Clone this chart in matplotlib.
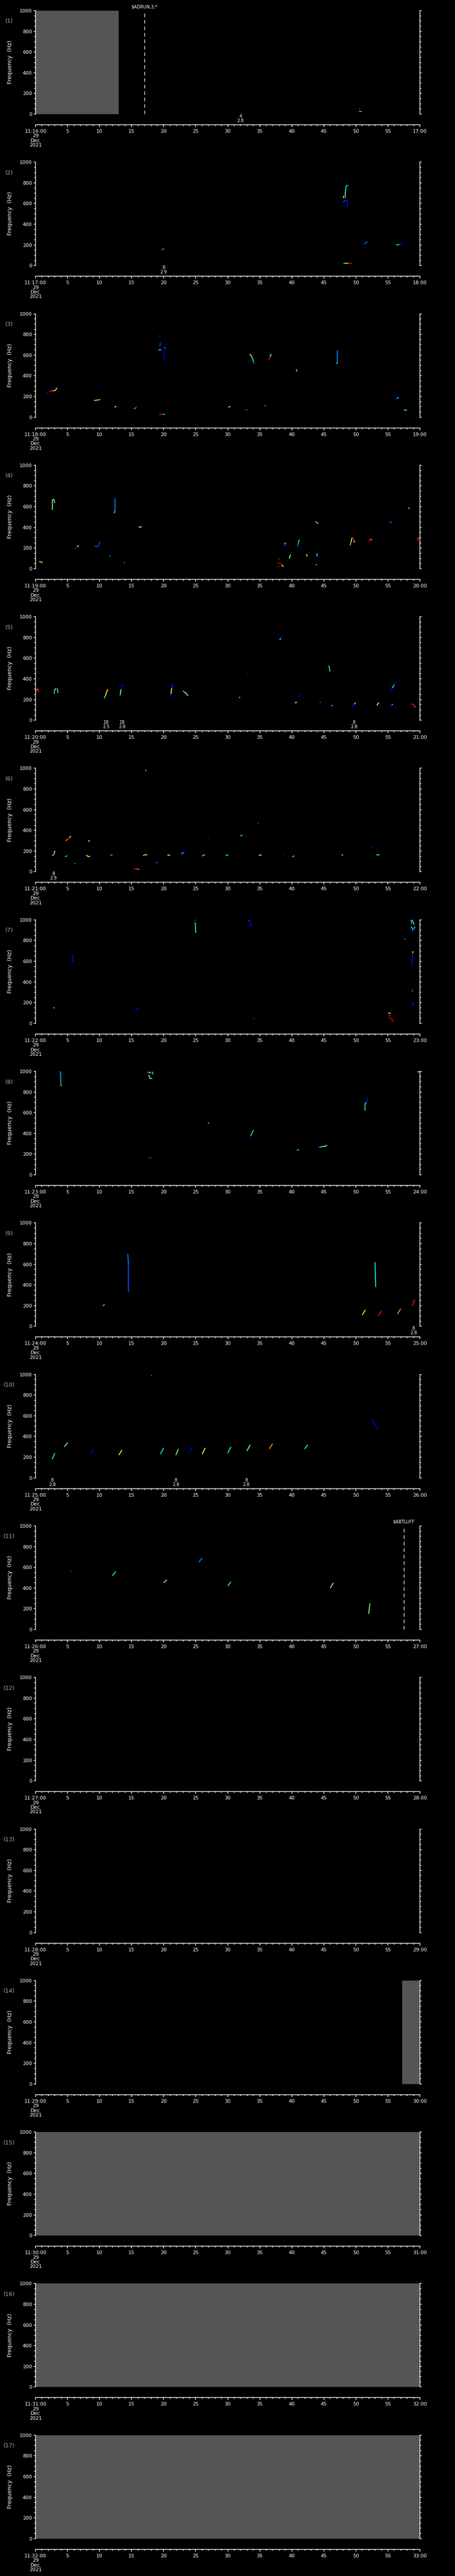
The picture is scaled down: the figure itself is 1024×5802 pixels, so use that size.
import matplotlib
matplotlib.use('Agg')
import matplotlib.pyplot as plt
import numpy as np
from matplotlib.collections import LineCollection
from matplotlib.ticker import MultipleLocator, FuncFormatter
import matplotlib.transforms as mtransforms

# ---- data -------------------------------------------------------------
N_PANEL = 17
first_minute = 16          # panel 1 starts 11:16:00
date_lines = ['29', 'Dec', '2021']

# no-data (grey) spans in seconds, per panel
gray_spans = {1: [(0, 13.0)], 14: [(57.2, 60)], 15: [(0, 60)], 16: [(0, 60)], 17: [(0, 60)]}

# vertical marker lines: panel -> (second, label)
marker_lines = {1: (17.0, '$ADRUN,3,*'), 11: (57.5, '$ABTLUFF')}

# event labels under the plot: panel -> [(second, count, value)]
event_labels = {
    1: [(32.0, '4', '2.8')],
    2: [(20.0, '8', '2.9')],
    5: [(11.0, '18', '2.5'), (13.5, '18', '2.8'), (49.7, '8', '2.8')],
    6: [(2.8, '8', '2.9')],
    9: [(59.0, '8', '2.8')],
    10: [(2.6, '8', '2.8'), (21.9, '8', '2.8'), (32.9, '8', '2.8')],
}

# detected traces: each trace = [(second, Hz, level 0-1)], level -> jet colour
p1 = [
    [(32.0, 17, 0.12)],
    [(50.6, 51, 0.25)],
    [(50.5, 26, 0.76), (50.9, 26, 0.25)],
]
p2 = [
    [(19.7, 150, 0.25), (20.1, 167, 0.25)],
    [(48.07, 653, 0.64), (48.07, 677, 0.64)],
    [(48.38, 653, 0.45), (48.38, 717, 0.36), (48.5, 774, 0.3), (48.83, 774, 0.25)],
    [(48.0, 614, 0.2), (48.4, 631, 0.12), (48.7, 634, 0.12), (48.7, 563, 0.12)],
    [(48.07, 21, 0.36), (48.4, 24, 0.64), (48.8, 21, 0.9), (49.4, 21, 0.76)],
    [(51.1, 203, 0.12), (51.4, 214, 0.25), (51.8, 229, 0.3)],
    [(56.3, 200, 0.36), (56.8, 205, 0.12), (57.3, 219, 0.25)],
]
p3 = [
    [(1.67, 232, 0.12), (1.99, 242, 0.12), (2.18, 247, 0.9), (2.57, 256, 0.76),
     (2.96, 256, 0.64), (3.15, 263, 0.5), (3.35, 285, 0.12), (3.54, 289, 0.12)],
    [(9.11, 162, 0.3), (9.3, 162, 0.64), (9.6, 165, 0.76), (9.85, 167, 0.64), (10.08, 170, 0.12)],
    [(12.34, 97, 0.64), (12.61, 104, 0.76)],
    [(15.4, 80, 0.36), (15.6, 90, 0.2), (15.8, 102, 0.12)],
    [(19.35, 785, 0.36), (19.45, 785, 0.36)],
    [(19.4, 688, 0.2), (19.5, 717, 0.12), (19.7, 720, 0.12)],
    [(19.2, 640, 0.25), (19.3, 654, 0.36), (19.6, 650, 0.12)],
    [(20.0, 556, 0.12), (20.1, 590, 0.12), (20.15, 672, 0.25), (20.3, 672, 0.5)],
    [(19.3, 27, 0.9), (19.7, 27, 0.9), (19.9, 27, 0.36), (20.2, 27, 0.12)],
    [(30.1, 97, 0.64), (30.4, 104, 0.76)],
    [(32.7, 74, 0.2), (33.1, 70, 0.12)],
    [(35.7, 109, 0.25), (36.0, 109, 0.36)],
    [(33.4, 609, 0.55), (33.6, 600, 0.5), (33.85, 574, 0.36), (34.0, 538, 0.25), (34.1, 516, 0.2)],
    [(36.4, 556, 0.9), (36.6, 584, 0.5), (36.75, 607, 0.36), (36.85, 611, 0.12), (36.9, 590, 0.12)],
    [(40.7, 461, 0.5), (40.8, 442, 0.12)],
    [(47.0, 514, 0.36), (47.1, 530, 0.25), (47.1, 640, 0.2), (47.3, 642, 0.12)],
    [(56.1, 175, 0.12), (56.4, 181, 0.36), (56.7, 190, 0.12)],
    [(57.5, 70, 0.36), (58.0, 67, 0.3)],
]
p4 = [
    [(0.58, 71, 0.5), (0.8, 64, 0.64), (1.09, 59, 0.12)],
    [(2.57, 571, 0.64), (2.65, 580, 0.5), (2.65, 667, 0.4), (2.9, 667, 0.5), (2.96, 635, 0.12)],
    [(6.07, 186, 0.12), (6.35, 207, 0.12), (6.5, 214, 0.64), (6.77, 221, 0.12)],
    [(9.19, 217, 0.2), (9.8, 214, 0.2), (9.9, 236, 0.2), (10.04, 260, 0.25)],
    [(11.6, 123, 0.3), (11.75, 123, 0.3)],
    [(12.3, 536, 0.36), (12.4, 560, 0.25), (12.4, 679, 0.25), (12.5, 679, 0.2)],
    [(13.8, 59, 0.36), (13.95, 59, 0.36)],
    [(16.1, 404, 0.5), (16.6, 404, 0.12)],
    [(16.0, 114, 0.12), (16.1, 124, 0.12)],
    [(37.8, 50, 0.95), (38.3, 50, 0.95), (38.45, 36, 0.64), (38.7, 20, 0.25)],
    [(37.8, 20, 0.9), (38.0, 20, 0.9)],
    [(37.9, 93, 0.9), (38.1, 93, 0.12)],
    [(38.8, 210, 0.12), (38.9, 236, 0.64), (39.0, 250, 0.9), (39.1, 245, 0.12)],
    [(39.6, 97, 0.5), (39.8, 136, 0.9)],
    [(40.9, 217, 0.25), (41.0, 243, 0.36), (41.1, 273, 0.36), (41.25, 273, 0.36)],
    [(42.3, 140, 0.64), (42.4, 119, 0.12)],
    [(43.9, 119, 0.36), (44.0, 149, 0.36)],
    [(43.8, 40, 0.64), (43.9, 40, 0.64)],
    [(43.7, 457, 0.36), (43.9, 447, 0.5), (44.1, 436, 0.12)],
    [(49.1, 226, 0.36), (49.25, 257, 0.64), (49.4, 300, 0.9), (49.6, 297, 0.9),
     (49.7, 270, 0.5), (49.8, 253, 0.36)],
    [(52.1, 257, 0.9), (52.2, 287, 0.9), (52.4, 284, 0.64), (52.5, 277, 0.36)],
    [(55.2, 457, 0.2), (55.7, 443, 0.12)],
    [(58.2, 590, 0.5), (58.4, 580, 0.12)],
    [(59.6, 271, 0.9), (59.7, 297, 0.76), (59.85, 297, 0.9), (59.95, 274, 0.36)],
]
p5 = [
    [(0.1, 269, 0.9), (0.2, 301, 0.76), (0.4, 298, 0.9), (0.5, 276, 0.36)],
    [(2.9, 255, 0.36), (3.0, 298, 0.64), (3.2, 305, 0.9), (3.4, 305, 0.36), (3.5, 262, 0.12)],
    [(10.7, 212, 0.36), (10.9, 234, 0.64), (11.15, 284, 0.64), (11.25, 301, 0.9), (11.4, 284, 0.5)],
    [(13.2, 241, 0.5), (13.35, 298, 0.12), (13.5, 344, 0.12), (13.65, 341, 0.12), (13.75, 327, 0.12)],
    [(21.0, 219, 0.12), (21.15, 255, 0.64), (21.25, 312, 0.12), (21.4, 352, 0.12), (21.45, 319, 0.12)],
    [(23.0, 284, 0.36), (23.3, 269, 0.64), (23.6, 255, 0.5), (23.8, 236, 0.12)],
    [(31.75, 219, 0.5), (31.95, 222, 0.4)],
    [(33.0, 451, 0.12), (33.2, 461, 0.36)],
    [(38.1, 778, 0.36), (38.3, 792, 0.12), (38.5, 809, 0.12)],
    [(40.3, 155, 0.12), (40.5, 169, 0.64), (40.8, 172, 0.76)],
    [(41.1, 226, 0.12), (41.2, 255, 0.12)],
    [(44.3, 172, 0.9), (44.6, 172, 0.12)],
    [(45.7, 523, 0.5), (45.85, 520, 0.36), (45.95, 470, 0.12), (46.0, 463, 0.12)],
    [(46.0, 129, 0.12), (46.2, 140, 0.36), (46.4, 146, 0.12)],
    [(49.4, 129, 0.12), (49.7, 155, 0.76), (49.85, 161, 0.36), (50.0, 172, 0.2)],
    [(53.3, 143, 0.64), (53.5, 165, 0.64), (53.6, 172, 0.36)],
    [(55.4, 133, 0.12), (55.6, 150, 0.36), (55.8, 155, 0.36)],
    [(55.4, 276, 0.12), (55.7, 312, 0.36), (56.0, 341, 0.12), (56.2, 367, 0.12), (56.3, 370, 0.12)],
    [(58.7, 152, 0.9), (59.0, 158, 0.9), (59.15, 129, 0.36), (59.3, 129, 0.36)],
]
p6 = [
    [(17.2, 989, 0.3), (17.2, 970, 0.3)],
    [(2.6, 154, 0.5), (2.8, 164, 0.36), (2.95, 180, 0.64), (3.0, 203, 0.5)],
    [(4.7, 300, 0.76), (5.0, 314, 0.9), (5.3, 330, 0.64), (5.5, 346, 0.2)],
    [(4.6, 146, 0.36), (4.9, 154, 0.12), (5.1, 157, 0.12)],
    [(6.1, 79, 0.36), (6.2, 83, 0.12)],
    [(7.8, 161, 0.9), (8.0, 161, 0.64), (8.1, 150, 0.64), (8.5, 146, 0.12), (8.8, 146, 0.12)],
    [(8.2, 296, 0.64), (8.45, 299, 0.12)],
    [(11.6, 157, 0.9), (11.8, 161, 0.76), (12.0, 163, 0.9)],
    [(15.3, 26, 0.9), (15.8, 26, 0.76), (16.1, 24, 0.2), (16.3, 24, 0.12)],
    [(16.8, 154, 0.5), (17.05, 165, 0.64), (17.4, 164, 0.12), (17.7, 157, 0.12)],
    [(18.7, 87, 0.2), (19.1, 87, 0.12)],
    [(20.6, 161, 0.64), (21.0, 161, 0.5)],
    [(22.5, 170, 0.12), (22.8, 174, 0.36), (23.1, 186, 0.12), (23.3, 203, 0.36)],
    [(26.0, 151, 0.36), (26.2, 160, 0.76), (26.5, 163, 0.9)],
    [(26.8, 314, 0.12), (27.1, 314, 0.12)],
    [(29.7, 161, 0.36), (30.1, 161, 0.36)],
    [(32.0, 346, 0.36), (32.3, 354, 0.12)],
    [(34.6, 471, 0.2), (34.8, 471, 0.12)],
    [(34.8, 161, 0.5), (35.3, 161, 0.36)],
    [(38.7, 161, 0.12), (38.9, 161, 0.12)],
    [(40.1, 143, 0.36), (40.4, 154, 0.12)],
    [(44.55, 337, 0.12), (44.7, 337, 0.12)],
    [(47.8, 159, 0.5), (48.0, 166, 0.36)],
    [(52.4, 236, 0.12), (52.7, 239, 0.36)],
    [(53.2, 161, 0.36), (53.7, 166, 0.12)],
]
p7 = [
    [(2.76, 150, 0.36), (2.95, 150, 0.2)],
    [(5.84, 666, 0.12), (5.86, 587, 0.12)],
    [(15.6, 135, 0.12), (15.8, 142, 0.12), (16.1, 142, 0.36)],
    [(24.85, 971, 0.45), (24.95, 971, 0.36), (25.0, 874, 0.36)],
    [(24.8, 997, 0.76), (25.05, 997, 0.9)],
    [(33.1, 994, 0.2), (33.4, 997, 0.12), (33.6, 941, 0.12), (33.75, 941, 0.12)],
    [(34.0, 46, 0.9), (34.15, 46, 0.12)],
    [(55.1, 52, 0.95), (55.6, 52, 0.95), (55.6, 26, 0.9), (55.9, 26, 0.55)],
    [(55.1, 99, 0.64), (55.4, 99, 0.12)],
    [(55.1, 73, 0.9), (55.4, 73, 0.12)],
    [(57.5, 817, 0.2), (57.8, 811, 0.12)],
    [(58.5, 997, 0.36), (58.8, 997, 0.36), (58.95, 974, 0.5), (59.1, 957, 0.9), (59.2, 960, 0.76)],
    [(58.7, 997, 0.3), (58.7, 961, 0.3)],
    [(58.6, 933, 0.36), (58.9, 914, 0.36), (58.9, 893, 0.12), (59.1, 914, 0.36), (59.2, 934, 0.36)],
    [(58.9, 696, 0.64), (58.88, 678, 0.12), (58.75, 549, 0.12)],
    [(58.8, 327, 0.25), (58.8, 302, 0.25)],
    [(58.7, 158, 0.12), (58.8, 187, 0.2), (59.0, 193, 0.25)],
]
p8 = [
    [(3.75, 998, 0.2), (3.9, 998, 0.3), (3.95, 864, 0.64), (4.1, 862, 0.12)],
    [(17.4, 983, 0.2), (17.65, 997, 0.76), (17.75, 985, 0.7), (18.0, 988, 0.12),
     (18.2, 997, 0.36), (18.35, 971, 0.12), (18.5, 974, 0.12)],
    [(17.65, 964, 0.5), (17.75, 951, 0.5), (17.85, 930, 0.5), (18.15, 930, 0.12), (18.4, 918, 0.12)],
    [(17.7, 168, 0.2), (18.1, 163, 0.12)],
    [(26.9, 501, 0.36), (27.1, 498, 0.12)],
    [(33.5, 355, 0.12), (33.6, 377, 0.36), (33.8, 404, 0.36), (34.0, 430, 0.12)],
    [(40.8, 241, 0.36), (41.1, 241, 0.12)],
    [(44.0, 269, 0.12), (44.3, 266, 0.36), (44.8, 274, 0.5), (45.3, 277, 0.5), (45.5, 288, 0.12)],
    [(51.4, 622, 0.36), (51.45, 689, 0.36), (51.65, 703, 0.12), (51.8, 749, 0.12)],
    [(59.55, 997, 0.36), (59.75, 997, 0.64), (59.95, 994, 0.64)],
]
# rough estimates
p9 = [
    [(14.4, 700, 0.25), (14.5, 600, 0.2), (14.5, 330, 0.12)],
    [(10.5, 200, 0.36), (10.8, 210, 0.2)],
    [(51.0, 110, 0.64), (51.5, 160, 0.76)],
    [(53.5, 100, 0.9), (54.0, 150, 0.64)],
    [(56.5, 120, 0.76), (57.0, 170, 0.9)],
    [(58.8, 200, 0.9), (59.2, 260, 0.64)],
    [(53.0, 620, 0.36), (53.1, 380, 0.25)],
]
p10 = [
    [(2.6, 180, 0.36), (3.0, 240, 0.64)],
    [(4.5, 300, 0.5), (5.0, 340, 0.25)],
    [(8.5, 230, 0.12), (9.0, 280, 0.36)],
    [(13.0, 220, 0.64), (13.5, 270, 0.76)],
    [(19.5, 230, 0.36), (20.0, 290, 0.12)],
    [(21.9, 220, 0.5), (22.3, 280, 0.64)],
    [(24.0, 250, 0.12), (24.5, 300, 0.36)],
    [(26.0, 230, 0.64), (26.5, 290, 0.9)],
    [(30.0, 240, 0.36), (30.5, 300, 0.12)],
    [(33.0, 260, 0.5), (33.5, 320, 0.64)],
    [(36.5, 280, 0.76), (37.0, 330, 0.64)],
    [(42.0, 280, 0.36), (42.5, 320, 0.12)],
    [(18.0, 990, 0.5), (18.1, 990, 0.5)],
    [(52.5, 560, 0.12), (53.5, 470, 0.25)],
]
p11 = [
    [(5.5, 560, 0.9), (5.6, 560, 0.9)],
    [(12.0, 520, 0.36), (12.5, 560, 0.12)],
    [(20.0, 450, 0.5), (20.5, 480, 0.25)],
    [(25.5, 650, 0.25), (26.0, 690, 0.12)],
    [(30.0, 420, 0.36), (30.5, 460, 0.12)],
    [(46.0, 400, 0.5), (46.5, 450, 0.36)],
    [(52.0, 150, 0.5), (52.2, 250, 0.36)],
]
empty = []
traces = [p1, p2, p3, p4, p5, p6, p7, p8, p9, p10, p11,
          empty, empty, empty, empty, empty, empty]

# ---- plotting ---------------------------------------------------------
W, H = 1024, 5802
DPI = 100
PX2PT = 72.0 / DPI
plt.rcParams['font.family'] = ['Liberation Sans Narrow', 'DejaVu Sans']

fig = plt.figure(figsize=(W / DPI, H / DPI), dpi=DPI, facecolor='black')
cmap = plt.get_cmap('jet')
pitch = H / N_PANEL
left, right = 80, 945
top_off, bot_off = 24, 257


def make_fmt(minute):
    def fmt(v, pos):
        v = int(round(v))
        if v == 0:
            return '11:%02d:00\n' % minute + '\n'.join(date_lines)
        if v == 60:
            return '%02d:00' % (minute + 1)
        return str(v)
    return fmt


for k in range(N_PANEL):
    num = k + 1
    off = k * pitch
    ax = fig.add_axes([left / W, 1 - (off + bot_off) / H,
                       (right - left) / W, (bot_off - top_off) / H])
    ax.set_facecolor('black')
    ax.set_xlim(0, 60)
    ax.set_ylim(0, 1000)

    for a, b in gray_spans.get(num, []):
        ax.axvspan(a, b, color='#555555', lw=0, zorder=1)

    for tr in traces[k]:
        pts = np.array(tr, dtype=float)
        if len(pts) == 1:
            ax.plot(pts[:, 0], pts[:, 1], 's', ms=2, mec='none', color=cmap(pts[0, 2]), zorder=3)
            continue
        segs = np.stack([pts[:-1, :2], pts[1:, :2]], axis=1)
        lc = LineCollection(segs, colors=cmap(pts[:-1, 2]), linewidths=1.5, zorder=3)
        ax.add_collection(lc)

    bt = mtransforms.blended_transform_factory(ax.transData, ax.transAxes)
    if num in marker_lines:
        sx, lab = marker_lines[num]
        ax.axvline(sx, color='white', lw=1.0, ls=(0, (6, 4.5)), zorder=4)
        ax.text(sx, 1 + 9 / 233, lab, transform=bt, color='white', fontsize=7,
                ha='center', va='center')

    for sx, n, v in event_labels.get(num, []):
        ax.text(sx, -5 / 233, n, transform=bt, color='white', fontsize=7, ha='center', va='center')
        ax.text(sx, -15 / 233, v, transform=bt, color='white', fontsize=7, ha='center', va='center')

    # spines
    ax.spines['top'].set_visible(False)
    for s in ['left', 'right', 'bottom']:
        ax.spines[s].set_color('white')
        ax.spines[s].set_linewidth(1.1)
    ax.spines['bottom'].set_position(('outward', 24 * PX2PT))

    ax.xaxis.set_major_locator(MultipleLocator(5))
    ax.xaxis.set_minor_locator(MultipleLocator(1))
    ax.xaxis.set_major_formatter(FuncFormatter(make_fmt(first_minute + k)))
    ax.yaxis.set_major_locator(MultipleLocator(200))
    ax.yaxis.set_minor_locator(MultipleLocator(50))
    ax.tick_params(axis='x', which='major', direction='out', length=5 * PX2PT, width=1.1,
                   color='white', labelcolor='white', labelsize=8, pad=5 * PX2PT)
    ax.tick_params(axis='x', which='minor', direction='out', length=3 * PX2PT, width=1.1, color='white')
    ax.tick_params(axis='y', which='both', direction='out', left=True, right=True,
                   labelright=False, color='white', width=1.1)
    ax.tick_params(axis='y', which='major', length=4 * PX2PT, labelcolor='white',
                   labelsize=8, pad=4 * PX2PT)
    ax.tick_params(axis='y', which='minor', length=3 * PX2PT)
    for t in ax.get_xticklabels():
        t.set_linespacing(1.05)

    fig.text(23 / W, 1 - (off + 140) / H, 'Frequency  (Hz)', color='white', fontsize=9,
             rotation=90, ha='center', va='center', family=['DejaVu Sans'])
    fig.text(21 / W, 1 - (off + 48) / H, '(%d)' % num, color='#a8a8a8', fontsize=9,
             ha='center', va='center')

fig.savefig('out.png', dpi=DPI, facecolor='black')
